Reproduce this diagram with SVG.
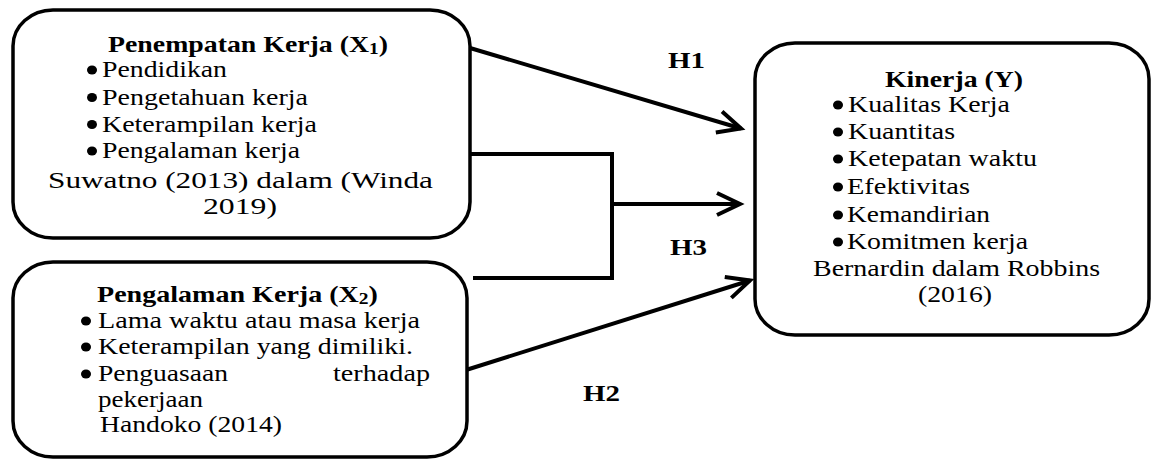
<svg xmlns="http://www.w3.org/2000/svg" width="1154" height="461" viewBox="0 0 1154 461">
<defs>
<style>
.box{fill:#fff;stroke:#000;stroke-width:3.5}
.t{font-family:"Liberation Serif",Tinos,"Times New Roman",Times,serif;font-size:23px;fill:#000}
.c{font-size:24px}
.ttl{font-family:"Liberation Serif",Tinos,"Times New Roman",Times,serif;font-size:23px;font-weight:bold;fill:#000}
.lbl{font-family:"Liberation Serif",Tinos,"Times New Roman",Times,serif;font-size:23px;font-weight:bold;fill:#000}
.bul{fill:#000}
.ln{fill:none;stroke:#000;stroke-width:4;stroke-linejoin:miter}
</style>
<marker id="ah" markerUnits="userSpaceOnUse" markerWidth="40" markerHeight="40" viewBox="-30 -20 40 40" refX="0" refY="0" orient="auto">
<path d="M-23,-11 L0,0 L-23,11" fill="none" stroke="#000" stroke-width="4" stroke-linejoin="miter"/>
</marker>
</defs>
<rect width="1154" height="461" fill="#fff"/>

<g id="connectors">
<line class="ln" x1="470" y1="48" x2="741" y2="128.5" marker-end="url(#ah)"/>
<polyline class="ln" points="471,154 612,154 612,278 473,278"/>
<line class="ln" x1="612" y1="204" x2="740" y2="204" marker-end="url(#ah)"/>
<line class="ln" x1="466" y1="370" x2="750" y2="280.5" marker-end="url(#ah)"/>
<text class="lbl" x="668" y="68" textLength="37" lengthAdjust="spacingAndGlyphs">H1</text>
<text class="lbl" x="670" y="255" textLength="37" lengthAdjust="spacingAndGlyphs">H3</text>
<text class="lbl" x="583" y="401" textLength="37" lengthAdjust="spacingAndGlyphs">H2</text>
</g>

<g id="node-x1">
<rect class="box" x="13" y="10" width="457" height="228" rx="40" ry="36"/>
<text class="ttl" x="108" y="52" textLength="280" lengthAdjust="spacingAndGlyphs">Penempatan Kerja (X<tspan font-size="16" dy="2">1</tspan><tspan dy="-2">)</tspan></text>
<ellipse class="bul" cx="92" cy="70" rx="5" ry="4.5"/>
<text class="t" x="102" y="77" textLength="125" lengthAdjust="spacingAndGlyphs">Pendidikan</text>
<ellipse class="bul" cx="92" cy="97.5" rx="5" ry="4.5"/>
<text class="t" x="102" y="104.5" textLength="206" lengthAdjust="spacingAndGlyphs">Pengetahuan kerja</text>
<ellipse class="bul" cx="92" cy="124.5" rx="5" ry="4.5"/>
<text class="t" x="102" y="131.5" textLength="215" lengthAdjust="spacingAndGlyphs">Keterampilan kerja</text>
<ellipse class="bul" cx="92" cy="151" rx="5" ry="4.5"/>
<text class="t" x="102" y="158" textLength="198" lengthAdjust="spacingAndGlyphs">Pengalaman kerja</text>
<text class="t c" x="48" y="188" textLength="385" lengthAdjust="spacingAndGlyphs">Suwatno (2013) dalam (Winda</text>
<text class="t c" x="203" y="214" textLength="74" lengthAdjust="spacingAndGlyphs">2019)</text>
</g>

<g id="node-x2">
<rect class="box" x="13" y="262" width="454" height="195" rx="40" ry="36"/>
<text class="ttl" x="97" y="302" textLength="281" lengthAdjust="spacingAndGlyphs">Pengalaman Kerja (X<tspan font-size="16" dy="2">2</tspan><tspan dy="-2">)</tspan></text>
<ellipse class="bul" cx="86" cy="321" rx="5" ry="4.5"/>
<text class="t" x="98" y="328" textLength="322" lengthAdjust="spacingAndGlyphs">Lama waktu atau masa kerja</text>
<ellipse class="bul" cx="86" cy="347" rx="5" ry="4.5"/>
<text class="t" x="98" y="354" textLength="315" lengthAdjust="spacingAndGlyphs">Keterampilan yang dimiliki.</text>
<ellipse class="bul" cx="86" cy="374" rx="5" ry="4.5"/>
<text class="t" x="98" y="381" textLength="130" lengthAdjust="spacingAndGlyphs">Penguasaan</text>
<text class="t" x="333" y="381" textLength="97" lengthAdjust="spacingAndGlyphs">terhadap</text>
<text class="t" x="98" y="407" textLength="105" lengthAdjust="spacingAndGlyphs">pekerjaan</text>
<text class="t" x="100" y="432" textLength="182" lengthAdjust="spacingAndGlyphs">Handoko (2014)</text>
</g>

<g id="node-y">
<rect class="box" x="755" y="43" width="394" height="292" rx="40" ry="36"/>
<text class="ttl" x="885" y="87" textLength="138" lengthAdjust="spacingAndGlyphs">Kinerja (Y)</text>
<ellipse class="bul" cx="838" cy="105" rx="5" ry="4.5"/>
<text class="t" x="848" y="112" textLength="162" lengthAdjust="spacingAndGlyphs">Kualitas Kerja</text>
<ellipse class="bul" cx="838" cy="132" rx="5" ry="4.5"/>
<text class="t" x="848" y="139" textLength="107" lengthAdjust="spacingAndGlyphs">Kuantitas</text>
<ellipse class="bul" cx="838" cy="159" rx="5" ry="4.5"/>
<text class="t" x="848" y="166" textLength="189" lengthAdjust="spacingAndGlyphs">Ketepatan waktu</text>
<ellipse class="bul" cx="838" cy="187" rx="5" ry="4.5"/>
<text class="t" x="847" y="194" textLength="123" lengthAdjust="spacingAndGlyphs">Efektivitas</text>
<ellipse class="bul" cx="838" cy="215" rx="5" ry="4.5"/>
<text class="t" x="847" y="222" textLength="143" lengthAdjust="spacingAndGlyphs">Kemandirian</text>
<ellipse class="bul" cx="838" cy="242" rx="5" ry="4.5"/>
<text class="t" x="847" y="249" textLength="181" lengthAdjust="spacingAndGlyphs">Komitmen kerja</text>
<text class="t c" x="813" y="276" textLength="287" lengthAdjust="spacingAndGlyphs">Bernardin dalam Robbins</text>
<text class="t c" x="918" y="302" textLength="74" lengthAdjust="spacingAndGlyphs">(2016)</text>
</g>
</svg>
